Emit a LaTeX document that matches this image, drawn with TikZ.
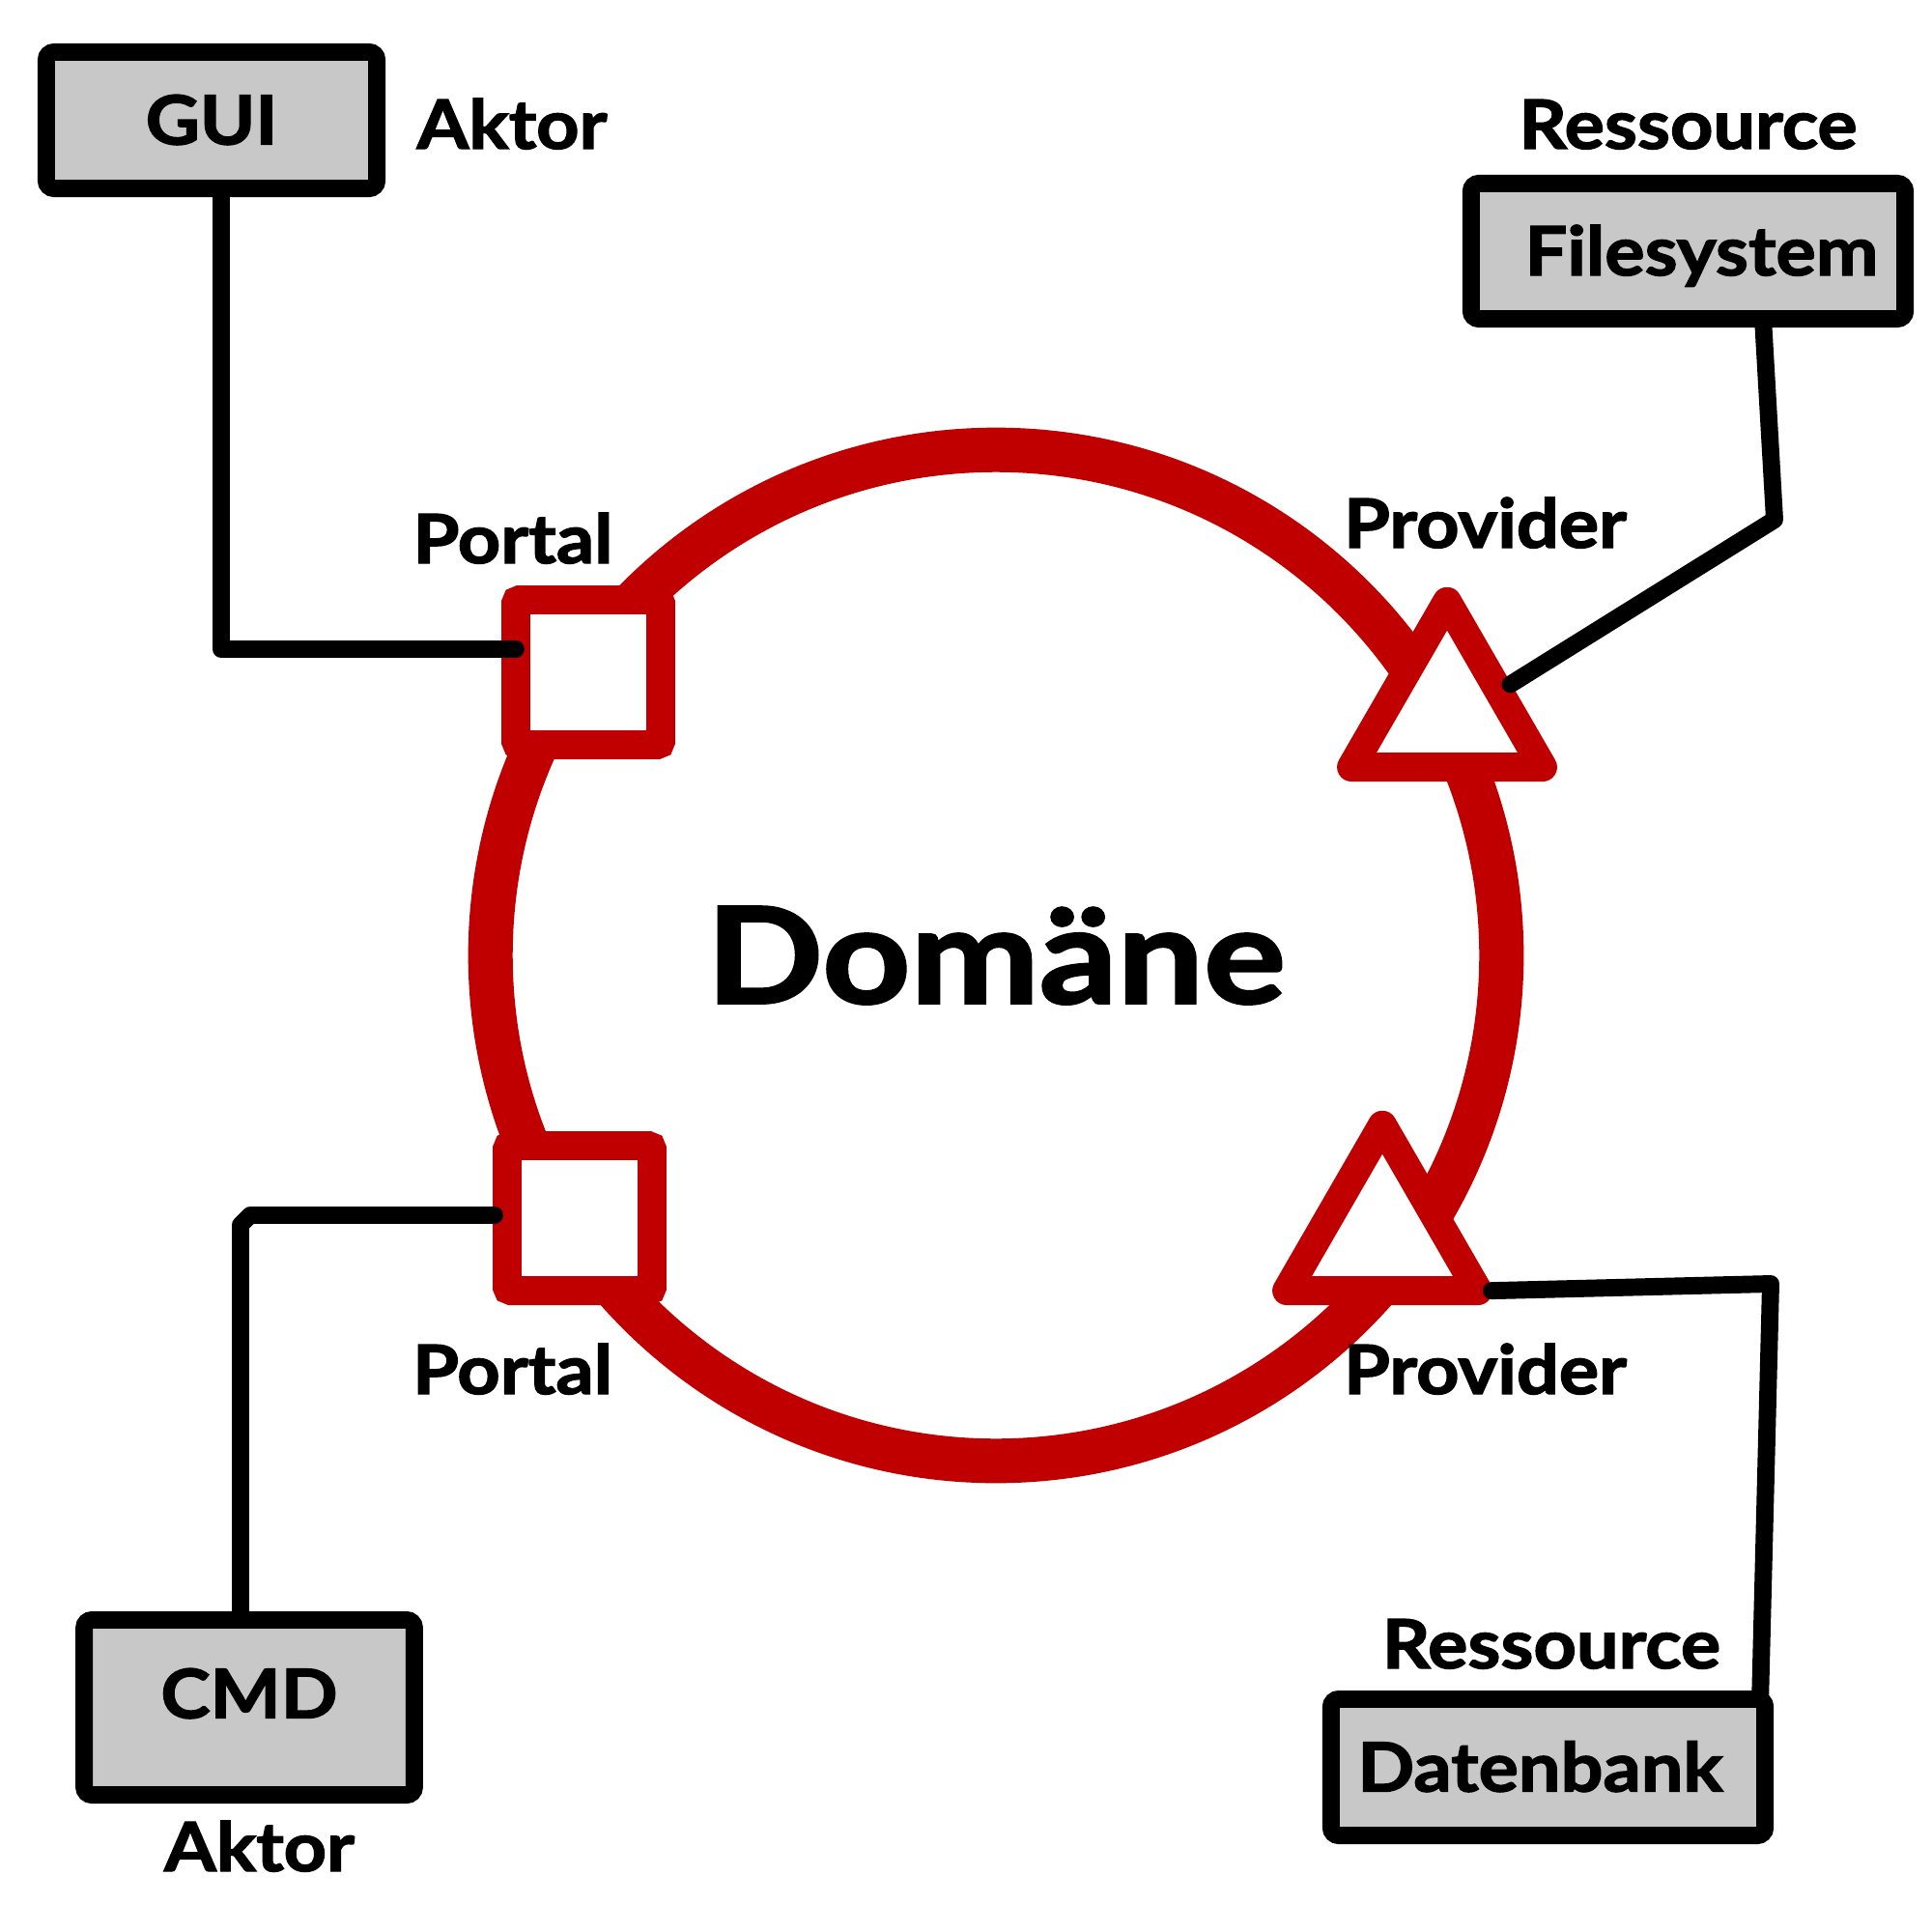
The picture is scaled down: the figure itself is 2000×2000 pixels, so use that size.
\documentclass[tikz,border=0pt]{standalone}
\usepackage{fontspec}
\setmainfont{Lato}
\newfontfamily\labfont{Lato}[BoldFeatures={FakeStretch=1.1,FakeBold=2}]
\newfontfamily\domfont{Lato}[BoldFeatures={FakeStretch=1.15,FakeBold=2}]
\usetikzlibrary{shapes.geometric}
\definecolor{ringred}{RGB}{192,0,0}
\definecolor{boxgray}{RGB}{200,200,200}
\begin{document}
\begin{tikzpicture}[x=0.01cm,y=-0.01cm,
  lab/.style={font=\labfont\fontsize{20}{24}\selectfont\bfseries, inner sep=0pt, anchor=base},
  box/.style={draw=black, fill=boxgray, line width=5.1pt, rounded corners=0.08cm, inner sep=0pt, outer sep=0pt, font=\labfont\fontsize{20}{24}\selectfont\bfseries, text height=0.5cm, text depth=0pt},
  portal/.style={draw=ringred, fill=white, line width=8.5pt, minimum size=1.5cm, inner sep=0pt, outer sep=0pt, rounded corners=0.04cm},
  provider/.style={regular polygon, regular polygon sides=3, draw=ringred, fill=white, line width=8.5pt, minimum size=2.284cm, inner sep=0pt, outer sep=0pt, line join=round},
  conn/.style={draw=black, line width=5.1pt, line cap=round, line join=round},
]
\useasboundingbox (0,0) rectangle (2000,2000);
% ring
\node[circle, draw=ringred, line width=13.1pt, minimum size=10.46cm, inner sep=0pt, font=\domfont\fontsize{39.3}{44}\selectfont\bfseries, text height=0.99cm, text depth=0pt] (dom) at (1031,989) {Domäne};
% boxes
\node[box, minimum width=3.42cm, minimum height=1.41cm] (gui) at (219,124.5) {GUI};
\node[box, minimum width=3.415cm, minimum height=1.81cm] (cmd) at (258,1767.5) {\raisebox{0.14cm}{CMD}};
\node[box, minimum width=4.49cm, minimum height=1.40cm] (fs) at (1747.5,260) {\hspace*{0.28cm}Filesystem};
\node[box, minimum width=4.49cm, minimum height=1.41cm] (db) at (1602.5,1829.5) {Datenbank\hspace*{0.16cm}};
% portals and providers
\node[portal] (p1) at (609,696) {};
\node[portal] (p2) at (600,1261) {};
\node[provider] (pv1) at (1498,737) {};
\node[provider] (pv2) at (1431,1279) {};
% labels
\node[lab] (aktor1) at (530,154) {Aktor};
\node[lab] (portal1) at (531,583) {Portal};
\node[lab] (portal2) at (530.5,1443) {Portal};
\node[lab] (prov1) at (1537.5,567) {Provider};
\node[lab] (prov2) at (1537.5,1443) {Provider};
\node[lab] (res1) at (1747.5,154) {Ressource};
\node[lab] (res2) at (1606,1727) {Ressource};
\node[lab] (aktor2) at (268.5,1937) {Aktor};
% connectors
\draw[conn] ([xshift=0.1cm]gui.south) |- ([yshift=0.24cm]p1.west);
\draw[conn] ([xshift=-0.13cm,yshift=0.03cm]p2.west) -- (259,1258) -- (249,1268) -- ([xshift=-0.09cm]cmd.north);
\draw[conn] ([xshift=0.16cm]pv1.side 3) -- (1837,538) -- ([xshift=0.775cm]fs.south);
\draw[conn] ([xshift=0.14cm]pv2.corner 3) -- (1833,1329) -- ([xshift=-0.05cm]db.north east);
\end{tikzpicture}
\end{document}
